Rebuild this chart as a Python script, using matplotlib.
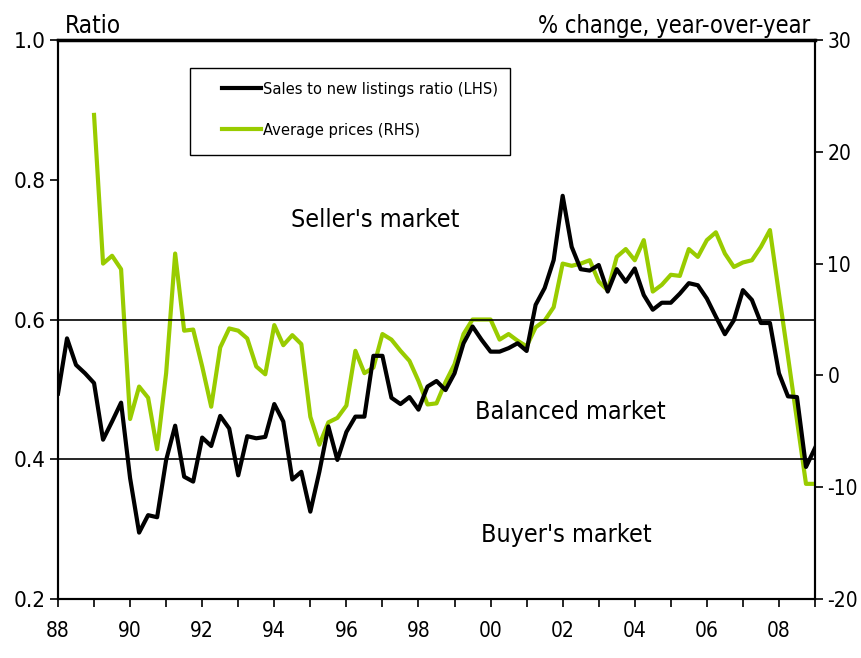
import numpy as np
import matplotlib
matplotlib.use("Agg")
import matplotlib.pyplot as plt
from matplotlib.patches import Rectangle
from matplotlib.ticker import FixedLocator, FuncFormatter

plt.rcParams['font.family'] = ['DejaVu Sans']
plt.rcParams['font.stretch'] = 'condensed'
plt.rcParams['axes.unicode_minus'] = False

# quarterly data, 1988Q1 - 2009Q1
ratio = [0.494, 0.573, 0.535, 0.523,
         0.509, 0.428, 0.454, 0.481,
         0.373, 0.295, 0.320, 0.317,
         0.399, 0.448, 0.375, 0.368,
         0.431, 0.419, 0.462, 0.444,
         0.377, 0.433, 0.430, 0.432,
         0.479, 0.454, 0.371, 0.382,
         0.325, 0.382, 0.447, 0.399,
         0.439, 0.461, 0.461, 0.548,
         0.548, 0.488, 0.479, 0.489,
         0.471, 0.504, 0.512, 0.499,
         0.523, 0.566, 0.590, 0.571,
         0.554, 0.554, 0.559, 0.566,
         0.555, 0.621, 0.645, 0.685,
         0.777, 0.704, 0.672, 0.670,
         0.678, 0.640, 0.672, 0.654,
         0.673, 0.635, 0.614, 0.624,
         0.624, 0.637, 0.652, 0.649,
         0.630, 0.604, 0.579, 0.599,
         0.642, 0.628, 0.595, 0.595,
         0.523, 0.490, 0.489, 0.389,
         0.416]

# average price % change y/y, 1989Q1 - 2009Q1
prices = [23.3, 10.0, 10.7, 9.5,
          -3.9, -1.0, -2.0, -6.6,
          0.2, 10.9, 4.0, 4.1,
          0.8, -2.8, 2.5, 4.2,
          4.0, 3.3, 0.8, 0.1,
          4.5, 2.7, 3.6, 2.8,
          -3.7, -6.2, -4.2, -3.8,
          -2.7, 2.2, 0.2, 0.7,
          3.7, 3.2, 2.2, 1.3,
          -0.5, -2.6, -2.5, -0.6,
          1.0, 3.7, 5.0, 5.0,
          5.0, 3.2, 3.7, 3.1,
          2.6, 4.3, 4.9, 6.1,
          10.0, 9.8, 10.0, 10.3,
          8.4, 7.6, 10.6, 11.3,
          10.3, 12.1, 7.5, 8.1,
          9.0, 8.9, 11.3, 10.6,
          12.1, 12.8, 10.9, 9.7,
          10.1, 10.3, 11.5, 13.0,
          7.3, 1.7, -4.0, -9.7,
          -9.7]

t_ratio = 1988 + np.arange(len(ratio)) / 4
t_prices = 1989 + np.arange(len(prices)) / 4

year_ticks = list(range(1988, 2009, 2))
green = '#99cc00'

fig = plt.figure(figsize=(8.62, 6.58), dpi=100)
ax = fig.add_axes([58/862, 1 - 599/658, 757/862, 559/658])
ax2 = ax.twinx()

ax.axhline(0.6, color='black', lw=1.2, zorder=1)
ax.axhline(0.4, color='black', lw=1.2, zorder=1)

l1, = ax.plot(t_ratio, ratio, color='black', lw=3, zorder=3,
              label='Sales to new listings ratio (LHS)')
l2, = ax2.plot(t_prices, prices, color=green, lw=3, zorder=3,
               label='Average prices (RHS)')
ax.set_zorder(ax2.get_zorder() + 1)
ax.patch.set_visible(False)

ax.set_xlim(1988, 2009)
ax.set_ylim(0.2, 1.0)
ax2.set_ylim(-20, 30)
ax.set_yticks([0.2, 0.4, 0.6, 0.8, 1.0])
ax.yaxis.set_major_formatter(FuncFormatter(lambda v, p: f'{v:.1f}'))
ax2.set_yticks([-20, -10, 0, 10, 20, 30])

ax.xaxis.set_major_locator(FixedLocator(year_ticks))
ax.xaxis.set_minor_locator(FixedLocator(range(1988, 2010)))
ax.xaxis.set_major_formatter(FuncFormatter(lambda v, p: f'{int(v) % 100:02d}'))

ax.tick_params(axis='x', which='both', direction='out', length=6, width=1.2, pad=10)
ax.tick_params(axis='x', which='major', labelsize=15)
ax.tick_params(axis='y', direction='out', length=6, width=1.2, pad=3, labelsize=16)
ax2.tick_params(axis='y', direction='out', length=6, width=1.2, pad=3, labelsize=15)

for a in (ax, ax2):
    for s in a.spines.values():
        s.set_linewidth(1.5)
ax.spines['top'].set_linewidth(2.5)

fig.text(65/862, 1 - 33/658, 'Ratio', fontsize=17.5, ha='left', va='baseline')
fig.text(810/862, 1 - 33/658, '% change, year-over-year', fontsize=17,
         ha='right', va='baseline')

ax.text(1996.8, 0.742, "Seller's market", fontsize=18, ha='center', va='center')
ax.text(2002.2, 0.468, 'Balanced market', fontsize=18, ha='center', va='center')
ax.text(2002.1, 0.292, "Buyer's market", fontsize=18, ha='center', va='center')

# legend box
bx0, bx1 = (190 - 58) / 757, (510 - 58) / 757
by0, by1 = (599 - 155) / 559, (599 - 68) / 559
ax.add_patch(Rectangle((bx0, by0), bx1 - bx0, by1 - by0, transform=ax.transAxes,
                       fill=True, facecolor='white', edgecolor='black', lw=1, zorder=4))
leg = ax.legend(handles=[l1, l2], loc='upper left',
                bbox_to_anchor=((217 - 58) / 757, (599 - 77) / 559),
                frameon=False, fontsize=11.8, handlelength=2.4, handletextpad=0.1,
                labelspacing=1.6, borderaxespad=0, borderpad=0.3)
leg.set_zorder(5)

fig.savefig('out.png', dpi=100)
